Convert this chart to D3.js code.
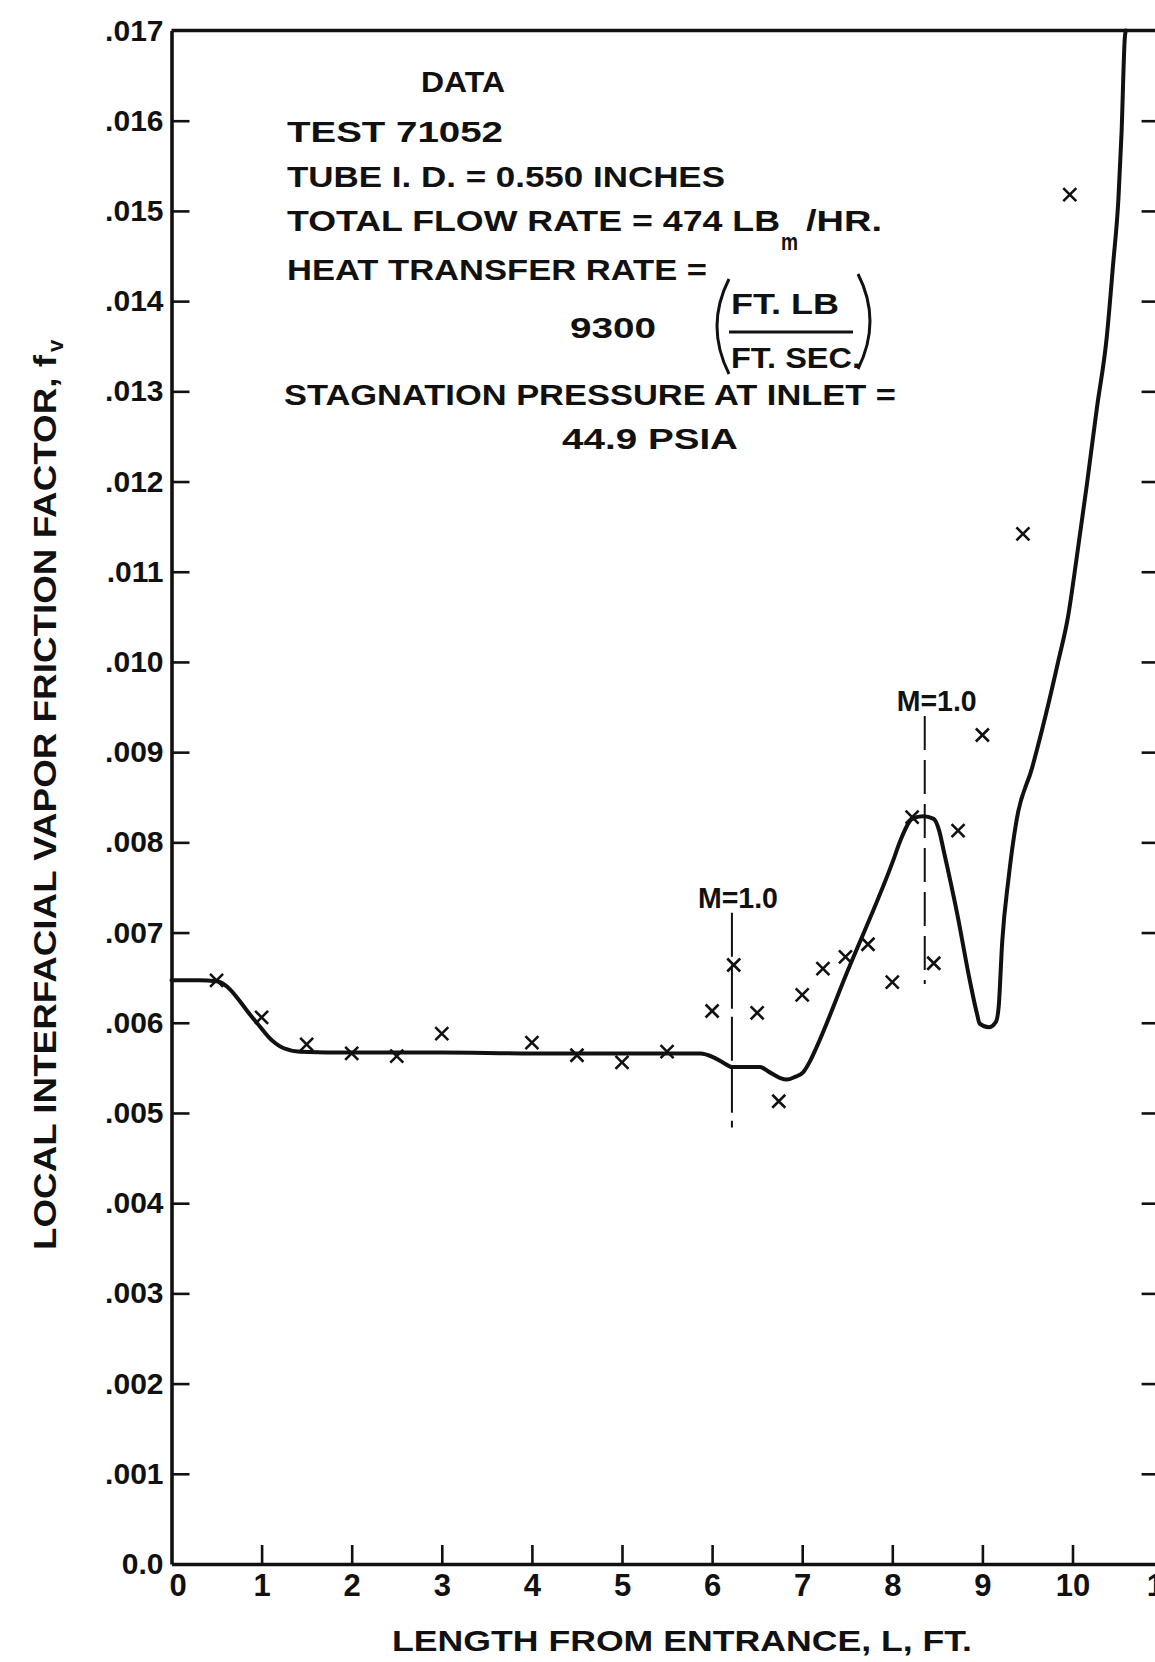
<!DOCTYPE html>
<html>
<head>
<meta charset="utf-8">
<script src="https://cdn.jsdelivr.net/npm/d3@7"></script>
<style>
  html, body { margin: 0; padding: 0; background: #fff; }
  svg { display: block; }
  text { font-family: "Liberation Sans", Arial, sans-serif; font-weight: bold; fill: #111; }
</style>
</head>
<body>
<svg id="chart" width="1155" height="1662"></svg>
<script>
// ---------------- DATA ----------------
const xTickValues = [0, 1, 2, 3, 4, 5, 6, 7, 8, 9, 10, 11];
const xTickLabels = ["0", "1", "2", "3", "4", "5", "6", "7", "8", "9", "10", "11"];
const yTickValues = [0, 0.001, 0.002, 0.003, 0.004, 0.005, 0.006, 0.007, 0.008, 0.009,
                     0.010, 0.011, 0.012, 0.013, 0.014, 0.015, 0.016, 0.017];
const yTickLabels = ["0.0", ".001", ".002", ".003", ".004", ".005", ".006", ".007", ".008", ".009",
                     ".010", ".011", ".012", ".013", ".014", ".015", ".016", ".017"];

// measured data points (x markers): length L (ft), friction factor f_v (x 0.001)
const pointL = [0.5, 1.0, 1.5, 2.0, 2.5, 3.0, 4.0, 4.5, 5.0, 5.5, 6.0, 6.24, 6.5, 6.74, 7.0,
                7.23, 7.48, 7.73, 8.0, 8.22, 8.46, 8.73, 9.0, 9.45, 9.97];
const pointF = [6.47, 6.06, 5.76, 5.66, 5.63, 5.88, 5.78, 5.64, 5.56, 5.68, 6.13, 6.64, 6.11, 5.13, 6.31,
                6.60, 6.73, 6.87, 6.45, 8.28, 6.66, 8.13, 9.19, 11.42, 15.18];

// faired curve through the data
const curveL = [0, 0.3, 0.5, 0.93, 1.12, 1.24, 1.43, 2.0, 3.0, 4.0,
                5.0, 5.64, 5.87, 6.01, 6.12, 6.22, 6.38, 6.53, 6.64, 6.75,
                6.83, 6.92, 7.01, 7.09, 7.16, 7.49, 8.01, 8.09, 8.22, 8.34,
                8.46, 8.52, 8.57, 8.72, 8.86, 8.94, 8.97, 9.07, 9.15, 9.18,
                9.22, 9.29, 9.38, 9.55, 9.70, 9.84, 9.95, 10.05, 10.16, 10.27,
                10.38, 10.45, 10.51, 10.545, 10.58, 10.59];
const curveF = [6.47, 6.47, 6.46, 6.02, 5.80, 5.72, 5.68, 5.67, 5.67, 5.66,
                5.66, 5.66, 5.66, 5.62, 5.56, 5.51, 5.51, 5.51, 5.45, 5.39,
                5.37, 5.40, 5.45, 5.58, 5.73, 6.54, 7.80, 8.02, 8.26, 8.29,
                8.26, 8.13, 7.91, 7.21, 6.47, 6.10, 5.99, 5.95, 6.01, 6.17,
                6.90, 7.60, 8.25, 8.82, 9.40, 10.0, 10.50, 11.18, 11.97, 12.81,
                13.60, 14.40, 15.14, 15.88, 16.91, 17.0];

// M = 1.0 markers (dashed verticals)
const machL      = [6.22, 8.36];
const machTopF   = [7.22, 9.40];
const machBotF   = [4.84, 6.43];
const machLabels = ["M=1.0", "M=1.0"];

// ---------------- CHART ----------------
const svg = d3.select("#chart");
const x = d3.scaleLinear().domain([0, 11]).range([171.5, 1162.6]);
const y = d3.scaleLinear().domain([0, 0.017]).range([1564, 30.5]);

// x axis (ticks inward = upward)
const xAxis = svg.append("g").attr("transform", `translate(0,${y(0)})`)
  .call(d3.axisBottom(x).tickValues(xTickValues).tickSize(-19).tickSizeOuter(0).tickPadding(0)
        .tickFormat((d, i) => xTickLabels[i]));
xAxis.select(".domain").attr("stroke", "#111").attr("stroke-width", 3.6);
xAxis.selectAll(".tick line").attr("stroke", "#111").attr("stroke-width", 2.6);
xAxis.selectAll(".tick text").attr("fill", "#111").attr("font-size", 31)
  .attr("font-family", "Liberation Sans, Arial, sans-serif").attr("font-weight", "bold")
  .attr("dy", null).attr("y", 32);
xAxis.selectAll(".tick").filter(d => d === 0).select("line").remove();
xAxis.selectAll(".tick").filter(d => d === 0).select("text").attr("x", 6);

// y axis (ticks inward = rightward)
const yAxis = svg.append("g").attr("transform", `translate(${x(0)},0)`)
  .call(d3.axisLeft(y).tickValues(yTickValues).tickSize(-18).tickSizeOuter(0).tickPadding(8)
        .tickFormat((d, i) => yTickLabels[i]));
yAxis.select(".domain").attr("stroke", "#111").attr("stroke-width", 3.6);
yAxis.selectAll(".tick line").attr("stroke", "#111").attr("stroke-width", 2.6);
yAxis.selectAll(".tick text").attr("fill", "#111").attr("font-size", 30)
  .attr("font-family", "Liberation Sans, Arial, sans-serif").attr("font-weight", "bold");
yAxis.selectAll(".tick").filter(d => d === 0 || d === 0.017).select("line").remove();

// right axis at L = 11 (mostly outside the picture), ticks inward
const rAxis = svg.append("g").attr("transform", `translate(${x(11)},0)`)
  .call(d3.axisRight(y).tickValues(yTickValues.filter(v => v > 0 && v < 0.017))
        .tickSize(-21).tickSizeOuter(0).tickFormat(""));
rAxis.select(".domain").attr("stroke", "#111").attr("stroke-width", 3.6);
rAxis.selectAll(".tick line").attr("stroke", "#111").attr("stroke-width", 2.6);

// top border
svg.append("line")
  .attr("x1", x(0)).attr("x2", x(11)).attr("y1", y(0.017)).attr("y2", y(0.017))
  .attr("stroke", "#111").attr("stroke-width", 3.6);

// M = 1.0 dashed lines
const dashes = ["44,8", "34,10"];
const labelShift = [6, 12];
machL.forEach((L, i) => {
  svg.append("line")
    .attr("x1", x(L)).attr("x2", x(L))
    .attr("y1", y(machTopF[i] / 1000)).attr("y2", y(machBotF[i] / 1000))
    .attr("stroke", "#111").attr("stroke-width", 2)
    .attr("stroke-dasharray", dashes[i]);
  svg.append("text")
    .attr("x", x(L) + labelShift[i]).attr("y", y(machTopF[i] / 1000) - 5)
    .attr("text-anchor", "middle").attr("font-size", 29)
    .attr("textLength", 80).attr("lengthAdjust", "spacingAndGlyphs")
    .text(machLabels[i]);
});

// curve
const curveData = curveL.map((L, i) => [L, curveF[i] / 1000]);
svg.append("path")
  .datum(curveData)
  .attr("fill", "none").attr("stroke", "#111").attr("stroke-width", 4)
  .attr("stroke-linejoin", "round").attr("stroke-linecap", "round")
  .attr("d", d3.line().x(d => x(d[0])).y(d => y(d[1])).curve(d3.curveMonotoneX));

// x markers
const pts = pointL.map((L, i) => [L, pointF[i] / 1000]);
svg.append("g").selectAll("path").data(pts).join("path")
  .attr("transform", d => `translate(${x(d[0])},${y(d[1])})`)
  .attr("d", "M-6.5,-6.5L6.5,6.5M-6.5,6.5L6.5,-6.5")
  .attr("stroke", "#111").attr("stroke-width", 2.6).attr("fill", "none");

// ---------------- ANNOTATION BLOCK ----------------
const note = svg.append("g").attr("font-size", 29);
function line(txt, x0, yb, w) {
  note.append("text").attr("x", x0).attr("y", yb)
    .attr("textLength", w).attr("lengthAdjust", "spacingAndGlyphs").text(txt);
}
line("DATA", 421, 92, 84);
line("TEST  71052", 287, 142, 216);
line("TUBE  I. D. = 0.550  INCHES", 287, 187, 438);
line("TOTAL  FLOW  RATE = 474  LB", 287, 231, 493);
note.append("text").attr("x", 781).attr("y", 250).attr("font-size", 24)
  .attr("textLength", 17).attr("lengthAdjust", "spacingAndGlyphs").text("m");
line("/HR.", 806, 231, 76);
line("HEAT  TRANSFER  RATE =", 287, 280, 420);
line("9300", 570, 338, 86);
line("FT. LB", 731, 314, 108);
line("FT. SEC.", 731, 368, 130);
note.append("line").attr("x1", 729).attr("x2", 853).attr("y1", 332).attr("y2", 332)
  .attr("stroke", "#111").attr("stroke-width", 3);
note.append("path").attr("d", "M729,279 Q705,326 729,374")
  .attr("fill", "none").attr("stroke", "#111").attr("stroke-width", 3);
note.append("path").attr("d", "M858,274 Q882,321 858,369")
  .attr("fill", "none").attr("stroke", "#111").attr("stroke-width", 3);
line("STAGNATION  PRESSURE  AT  INLET =", 284, 405, 612);
line("44.9  PSIA", 562, 449, 176);

// ---------------- AXIS TITLES ----------------
svg.append("text")
  .attr("x", 682).attr("y", 1651).attr("text-anchor", "middle").attr("font-size", 30)
  .attr("textLength", 580).attr("lengthAdjust", "spacingAndGlyphs")
  .text("LENGTH FROM ENTRANCE, L, FT.");

const yt = svg.append("g").attr("transform", "translate(56,0) rotate(-90)");
yt.append("text")
  .attr("x", -1250).attr("y", 0).attr("font-size", 32)
  .attr("textLength", 895).attr("lengthAdjust", "spacingAndGlyphs")
  .text("LOCAL  INTERFACIAL  VAPOR  FRICTION  FACTOR,  f");
yt.append("text")
  .attr("x", -352).attr("y", 7).attr("font-size", 22)
  .text("v");
</script>
</body>
</html>
